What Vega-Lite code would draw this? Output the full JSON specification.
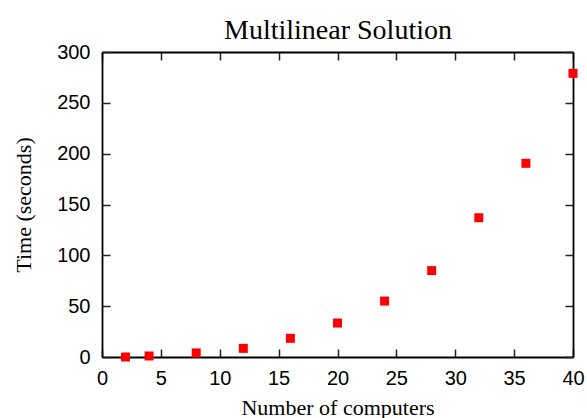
{
  "$schema": "https://vega.github.io/schema/vega-lite/v6.json",
  "autosize": "none",
  "width": 471,
  "height": 305,
  "padding": {"left": 102, "top": 52, "right": 14, "bottom": 61},
  "background": "white",
  "data": {
    "values": [
      {"computers": 2, "time": 0},
      {"computers": 4, "time": 1},
      {"computers": 8, "time": 4},
      {"computers": 12, "time": 8.5},
      {"computers": 16, "time": 18.4},
      {"computers": 20, "time": 33.4},
      {"computers": 24, "time": 55},
      {"computers": 28, "time": 85},
      {"computers": 32, "time": 137},
      {"computers": 36, "time": 190.5},
      {"computers": 40, "time": 279}
    ]
  },
  "layer": [
    {
      "mark": {"type": "point", "shape": "square", "filled": true, "size": 81, "color": "#ff0000", "opacity": 1, "strokeWidth": 0},
      "encoding": {
        "x": {
          "field": "computers", "type": "quantitative",
          "scale": {"domain": [0, 40], "nice": false, "zero": false},
          "axis": {
            "orient": "bottom",
            "values": [0, 5, 10, 15, 20, 25, 30, 35, 40],
            "title": "Number of computers",
            "titleFont": "Liberation Serif", "titleFontSize": 22, "titleFontWeight": "normal", "titleColor": "black",
            "titleBaseline": "alphabetic", "titleY": 57,
            "labelFont": "Liberation Sans", "labelFontSize": 20, "labelColor": "black",
            "labelFlush": false, "labelOverlap": false,
            "tickSize": -8, "labelPadding": 19, "tickColor": "#222", "tickWidth": 1.5,
            "domainColor": "black", "domainWidth": 1.8,
            "grid": false
          }
        },
        "y": {
          "field": "time", "type": "quantitative",
          "scale": {"domain": [0, 300], "nice": false, "zero": false},
          "axis": {
            "orient": "left",
            "values": [0, 50, 100, 150, 200, 250, 300],
            "title": "Time (seconds)",
            "titleFont": "Liberation Serif", "titleFontSize": 22, "titleFontWeight": "normal", "titleColor": "black",
            "titleBaseline": "alphabetic", "titleAngle": 270, "titleX": -72, "titleY": 152.5,
            "labelFont": "Liberation Sans", "labelFontSize": 20, "labelColor": "black",
            "labelFlush": false, "labelOverlap": false,
            "tickSize": -8, "labelPadding": 20, "tickColor": "#222", "tickWidth": 1.5,
            "domainColor": "black", "domainWidth": 1.8,
            "grid": false
          }
        }
      }
    },
    {
      "mark": {"type": "point", "shape": "square", "filled": true, "size": 81, "opacity": 0},
      "encoding": {
        "x": {
          "field": "computers", "type": "quantitative",
          "axis": {
            "orient": "top",
            "values": [0, 5, 10, 15, 20, 25, 30, 35, 40],
            "title": "Multilinear Solution",
            "titleFont": "Liberation Serif", "titleFontSize": 28, "titleFontWeight": "normal", "titleColor": "black",
            "titleBaseline": "alphabetic", "titleY": -14, "titleX": 235.5, "titleAlign": "center",
            "labels": false,
            "tickSize": -8, "tickColor": "#222", "tickWidth": 1.5,
            "domainColor": "black", "domainWidth": 1.8,
            "grid": false
          }
        },
        "y": {
          "field": "time", "type": "quantitative",
          "axis": {
            "orient": "right",
            "values": [0, 50, 100, 150, 200, 250, 300],
            "title": null, "labels": false,
            "tickSize": -8, "tickColor": "#222", "tickWidth": 1.5,
            "domainColor": "black", "domainWidth": 1.8,
            "grid": false
          }
        }
      }
    }
  ],
  "resolve": {"axis": {"x": "independent", "y": "independent"}},
  "config": {"view": {"stroke": null}}
}
